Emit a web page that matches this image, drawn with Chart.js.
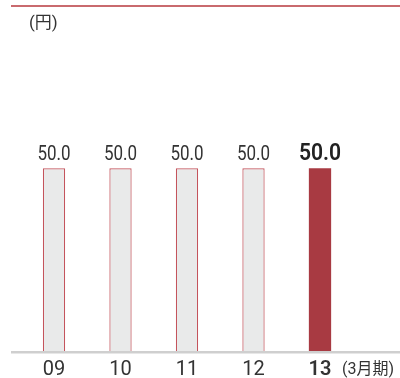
<!DOCTYPE html>
<html><head><meta charset="utf-8">
<script src="https://cdn.jsdelivr.net/npm/chart.js@4/dist/chart.umd.min.js"></script>
<style>
html,body{margin:0;padding:0;background:#fff;}
#wrap{position:relative;width:400px;height:378px;overflow:hidden;}
canvas{position:absolute;left:0;top:0;}
.note{position:absolute;font-family:"Roboto","Noto Sans CJK JP",sans-serif;color:#333;white-space:nowrap;}
</style></head>
<body>
<div id="wrap">
<canvas id="c" width="400" height="378"></canvas>
<div class="note" id="unit" style="left:29px;top:11px;font-size:17px;line-height:22px;">(円)</div>
<div class="note" id="period" style="left:342px;top:359px;font-size:16px;line-height:20px;">(3月期)</div>
</div>
<script>
const categories = ["09", "10", "11", "12", "13"];
const dividends = [50.0, 50.0, 50.0, 50.0, 50.0];
const valueLabels = ["50.0", "50.0", "50.0", "50.0", "50.0"];
const highlightIndex = 4;

const fontFam = '"Roboto", sans-serif';

const framePlugin = {
  id: 'frame',
  beforeDraw(chart) {
    const ctx = chart.ctx;
    ctx.save();
    ctx.fillStyle = '#c96a6e';
    ctx.fillRect(11, 5, 389, 2);
    ctx.restore();
  },
  afterDatasetsDraw(chart) {
    const ctx = chart.ctx;
    const area = chart.chartArea;
    ctx.save();
    ctx.fillStyle = '#cfcfcf';
    ctx.fillRect(11, area.bottom - 1, 389, 2.5);
    const meta = chart.getDatasetMeta(0);
    ctx.textAlign = 'center';
    ctx.textBaseline = 'alphabetic';
    meta.data.forEach((bar, i) => {
      const hi = i === highlightIndex;
      ctx.save();
      ctx.translate(bar.x, 160);
      ctx.scale(hi ? 0.88 : 0.85, 1);
      ctx.font = (hi ? '600 24px ' : '20px ') + fontFam;
      ctx.fillStyle = hi ? '#222' : '#333';
      ctx.fillText(valueLabels[i], 0, 0);
      ctx.restore();
    });
    ctx.restore();
  }
};

new Chart(document.getElementById('c'), {
  type: 'bar',
  data: {
    labels: categories,
    datasets: [{
      data: dividends,
      backgroundColor: dividends.map((v, i) => i === highlightIndex ? '#a83a42' : '#e9eaea'),
      borderColor: dividends.map((v, i) => i === highlightIndex ? '#a83a42' : '#c4545c'),
      borderWidth: dividends.map((v, i) => i === highlightIndex ? 0 : {top: 1.2, left: 1.2, right: 1.2, bottom: 0}),
      borderSkipped: false,
      barPercentage: 1,
      categoryPercentage: 0.335
    }]
  },
  options: {
    responsive: false,
    animation: false,
    events: [],
    layout: { padding: { left: 20.75, right: 46.75, top: 58, bottom: -10 } },
    plugins: { legend: { display: false }, tooltip: { enabled: false }, title: { display: false } },
    scales: {
      x: {
        grid: { display: false, drawTicks: false },
        border: { display: false },
        ticks: {
          color: '#333',
          padding: 10,
          font: (ctx) => ({ family: fontFam, size: 20, lineHeight: 0.8, weight: ctx.index === highlightIndex ? '600' : 'normal' })
        }
      },
      y: {
        display: false,
        min: 0,
        max: 80
      }
    }
  },
  plugins: [framePlugin]
});
</script>
</body></html>
